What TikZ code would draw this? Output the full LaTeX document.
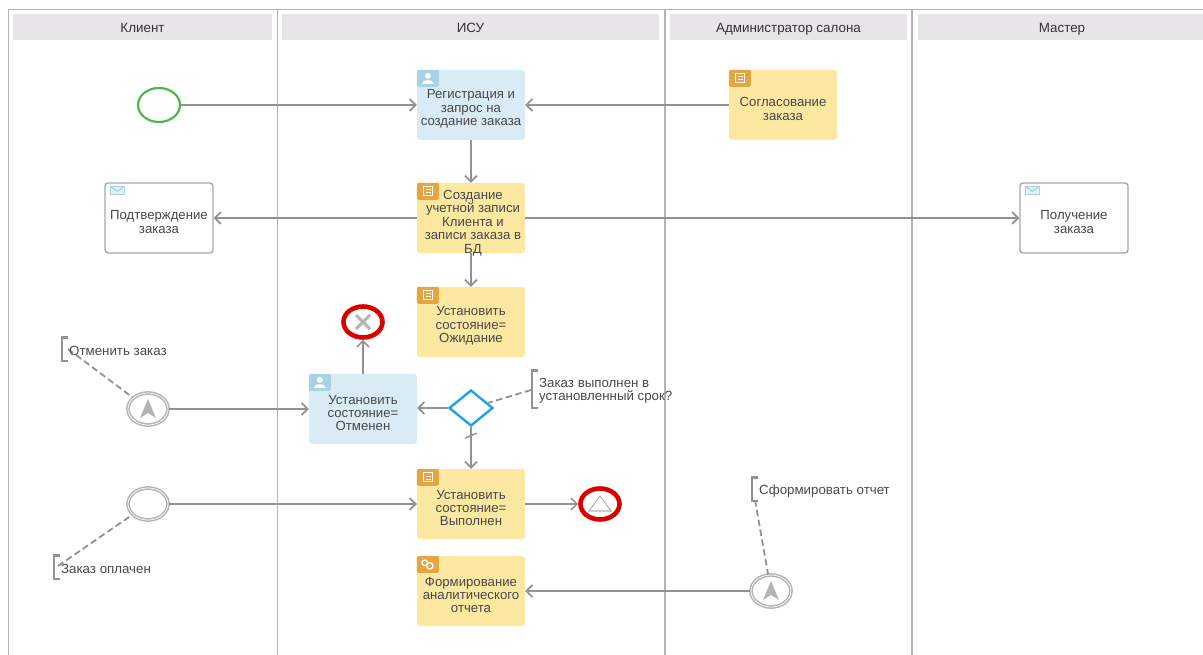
\documentclass[tikz,border=0pt]{standalone}
\usepackage{fontspec}
\setmainfont{Liberation Sans}
\usetikzlibrary{arrows.meta,shapes.geometric,calc}
\definecolor{lane}{HTML}{B4B4B4}
\definecolor{headf}{HTML}{E8E5E8}
\definecolor{flow}{HTML}{929292}
\definecolor{yel}{HTML}{FDE8A2}
\definecolor{blu}{HTML}{D9ECF6}
\definecolor{orng}{HTML}{E6A545}
\definecolor{bicon}{HTML}{A9D3E5}
\definecolor{txt}{HTML}{484848}
\tikzset{
  x=1pt,y=-1pt,
  lanel/.style={draw=lane,line width=1.7pt},
  headbox/.style={fill=headf,draw=none,anchor=center,minimum height=26pt,inner sep=0pt,text=black!80,text height=12.5pt,text depth=1.5pt,font=\fontsize{13.4}{14}\selectfont},
  taskbase/.style={minimum width=108pt,minimum height=70pt,rounded corners=3pt,inner sep=0pt},
  ytask/.style={taskbase,fill=yel},
  btask/.style={taskbase,fill=blu},
  wtask/.style={taskbase,draw=flow!80,fill=white,line width=1.4pt},
  lbl/.style={text=txt,align=center,inner sep=0pt,yshift=-1pt,font=\fontsize{13.2}{13.4}\selectfont},
  note/.style={text=txt,align=left,anchor=west,inner sep=0pt,yshift=-1pt,font=\fontsize{13.3}{14}\selectfont},
  arr/.style={draw=flow,line width=2pt,-{Straight Barb[length=6pt,width=12pt,line width=1.7pt]}},
  dashl/.style={draw=flow,line width=1.8pt,dash pattern=on 6.5pt off 3.5pt},
  brk/.style={draw=flow,line width=2.4pt},
  evt/.style={ellipse,minimum width=42pt,minimum height=34pt,inner sep=0pt,fill=white},
  inter/.style={evt,draw=lane,double=white,double distance=.7pt,line width=1.5pt,minimum width=40pt,minimum height=32pt},
  endev/.style={evt,draw=red!85!black,line width=4.6pt,minimum width=39pt,minimum height=31pt},
  iconscr/.style={draw=white,line width=.9pt},
}
\newcommand{\icscript}[1]{%
  \fill[orng,rounded corners=1.5pt] ($(#1.north west)+(0,0)$) rectangle ++(22,17);
  \draw[iconscr] ($(#1.north west)+(7,4)$) rectangle ++(9,9);
  \draw[iconscr,line width=.6pt] ($(#1.north west)+(9,7)$) -- ++(5,0) ($(#1.north west)+(9,10)$) -- ++(5,0);}
\newcommand{\icuser}[1]{%
  \fill[bicon,rounded corners=1.5pt] ($(#1.north west)+(0,0)$) rectangle ++(22,17);
  \fill[white] ($(#1.north west)+(11,6)$) ellipse (3 and 3);
  \fill[white] ($(#1.north west)+(5,14)$) .. controls ($(#1.north west)+(6,9)$) and ($(#1.north west)+(16,9)$) .. ($(#1.north west)+(17,14)$) -- cycle;}
\newcommand{\icgear}[1]{%
  \fill[orng,rounded corners=1.5pt] ($(#1.north west)+(0,0)$) rectangle ++(22,17);
  \draw[white,line width=1.3pt] ($(#1.north west)+(8,7)$) circle (2.8);
  \draw[white,line width=1.3pt] ($(#1.north west)+(13,10)$) circle (3.2);}
\newcommand{\icmail}[1]{%
  \draw[bicon,line width=1.3pt,fill=bicon!35] ($(#1.north west)+(6,4)$) rectangle ++(14,8);
  \draw[bicon,line width=1.1pt] ($(#1.north west)+(6,4)$) -- ++(7,5) -- ++(7,-5);}
\begin{document}
\begin{tikzpicture}
\useasboundingbox (0,0) rectangle (1203,655);
% lanes
\draw[lanel] (8.5,655) -- (8.5,9.5) -- (1203,9.5);
\draw[lanel] (277.5,9.5) -- (277.5,655);
\draw[lanel] (665,9.5) -- (665,655);
\draw[lanel] (912,9.5) -- (912,655);
\node[headbox,minimum width=259pt] (h1) at (142.5,27) {Клиент};
\node[headbox,minimum width=377pt] (h2) at (470.5,27) {ИСУ};
\node[headbox,minimum width=237pt] (h3) at (788.5,27) {Администратор салона};
\node[headbox,minimum width=285pt] (h4) at (1060.5,27) {};
\node[headbox,fill=none] (h4t) at (1062,27) {Мастер};
% tasks
\node[btask] (t1) at (471,105) {};
\node[lbl] (t1l) at (471,108) {Регистрация и\\запрос на\\создание заказа};
\node[ytask] (t2) at (471,218) {};
\node[lbl] (t2l) at (473,222) {Создание\\учетной записи\\Клиента и\\записи заказа в\\БД};
\node[ytask] (t3) at (471,322) {};
\node[lbl] (t3l) at (471,325) {Установить\\состояние=\\Ожидание};
\node[btask] (t4) at (363,409) {};
\node[lbl] (t4l) at (363,412) {Установить\\состояние=\\Отменен};
\node[ytask] (t5) at (471,504) {};
\node[lbl] (t5l) at (471,507) {Установить\\состояние=\\Выполнен};
\node[ytask] (t6) at (471,591) {};
\node[lbl] (t6l) at (471,594) {Формирование\\аналитического\\отчета};
\node[ytask] (t7) at (783,105) {};
\node[lbl] (t7l) at (783,108) {Согласование\\заказа};
\node[wtask] (t8) at (159,218) {};
\node[lbl] (t8l) at (159,221) {Подтверждение\\заказа};
\node[wtask] (t9) at (1074,218) {};
\node[lbl] (t9l) at (1074,221) {Получение\\заказа};
\icuser{t1}\icscript{t2}\icscript{t3}\icuser{t4}\icscript{t5}\icgear{t6}\icscript{t7}\icmail{t8}\icmail{t9}
% events
\node[evt,draw=green!60!black!70!white,line width=2.2pt] (s) at (159,105) {};
\node[endev] (ex) at (363,322) {};
\draw[lane,line width=3pt] (356,315) -- (370,329) (370,315) -- (356,329);
\node[inter] (e1) at (148,409) {};
\fill[lane] (148,399) -- (156,418) -- (148,413) -- (140,418) -- cycle;
\node[inter] (e2) at (148,504) {};
\node[inter] (e3) at (771,591) {};
\fill[lane] (771,581) -- (779,600) -- (771,595) -- (763,600) -- cycle;
\node[endev] (et) at (600,504) {};
\draw[lane,line width=1.1pt] (600,496) -- (611,511) -- (589,511) -- cycle;
\node[diamond,draw=cyan!85!blue!90!white,line width=2.4pt,fill=white,minimum width=44pt,minimum height=36pt,inner sep=0pt] (g) at (471,408) {};
% connectors
\draw[arr] (s) -- (t1.west |- s);
\draw[arr] (t7) -- (t1);
\draw[arr] (t1) -- (t2);
\draw[arr] (t2) -- (t8);
\draw[arr] (t2) -- (t9);
\draw[arr] (t2) -- (t3);
\draw[arr] (t4) -- (ex);
\draw[arr] (g.west) -- (t4.east |- g.west);
\draw[arr] (g) -- (t5);
\draw[draw=flow,line width=1.4pt] ($(g.south)+(-6,11)$) -- ($(g.south)+(6,6)$);
\draw[arr] (t5) -- (et);
\draw[arr] (e1) -- (t4);
\draw[arr] (e2) -- (t5);
\draw[arr] (e3) -- (t6);
% annotations
\coordinate (a1) at (68,349);
\coordinate (a2) at (58,566);
\coordinate (a3) at (531,390);
\coordinate (a4) at (755,500);
\draw[brk] (68,337.5) -- (62,337.5) -- (62,361) -- (68,361);
\draw[brk] (60,555.5) -- (54,555.5) -- (54,579) -- (60,579);
\draw[brk] (538,370.5) -- (532,370.5) -- (532,408) -- (538,408);
\draw[brk] (758,477.5) -- (752,477.5) -- (752,501) -- (758,501);
\draw[dashl] (a1) -- (e1);
\draw[dashl] (a2) -- (e2);
\draw[dashl] (a3) -- (g);
\draw[dashl] (a4) -- (e3);
\node[note] (n1) at (69,350) {Отменить заказ};
\node[note] (n2) at (61,568) {Заказ оплачен};
\node[note,font=\fontsize{13.3}{13.4}\selectfont] (n3) at (539,390) {Заказ выполнен в\\установленный срок?};
\node[note] (n4) at (759,490) {Сформировать отчет};
\end{tikzpicture}
\end{document}
